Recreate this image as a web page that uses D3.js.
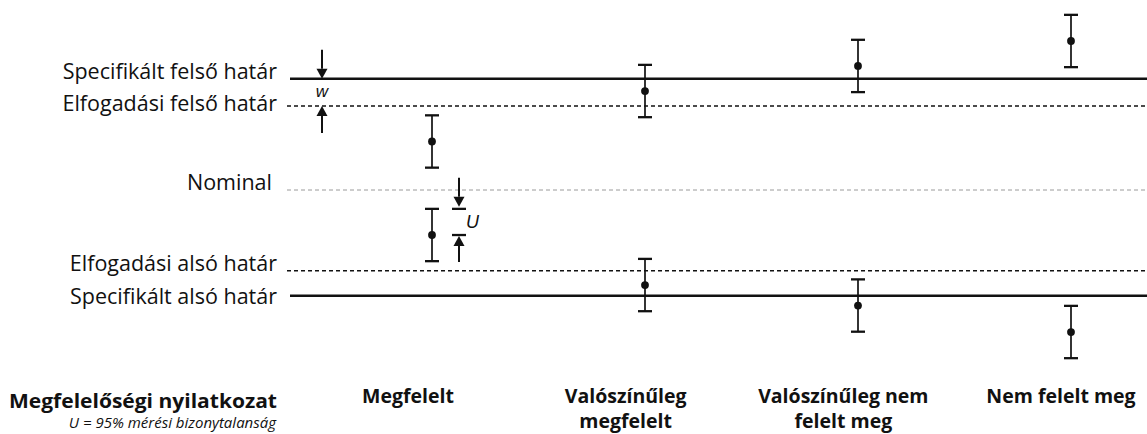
<!DOCTYPE html>
<html>
<head>
<meta charset="utf-8">
<script src="https://cdn.jsdelivr.net/npm/d3@7"></script>
<style>
  html, body { margin: 0; padding: 0; background: #fff; }
  svg { display: block; }
  text { fill: #111; }
</style>
</head>
<body>
<svg id="chart" width="1147" height="434"></svg>
<script>
// ---- data ----
const categories = ["Megfelelt", "Valószínűleg megfelelt", "Valószínűleg nem felelt meg", "Nem felelt meg"];
const categoryLines = [["Megfelelt"], ["Valószínűleg", "megfelelt"], ["Valószínűleg nem", "felelt meg"], ["Nem felelt meg"]];
const upperValues = [4.45, 9.08, 11.38, 13.67];
const lowerValues = [-4.13, -8.72, -10.6, -13.03];
const uncertainty = 2.4;
const limitNames = ["Specifikált felső határ", "Elfogadási felső határ", "Nominal", "Elfogadási alsó határ", "Specifikált alsó határ"];
const limitValues = [10.2, 7.7, 0, -7.4, -9.7];
const limitKinds = ["spec", "accept", "nominal", "accept", "spec"];
const titleText = "Megfelelőségi nyilatkozat";
const noteText = "U = 95% mérési bizonytalanság";

// ---- layout ----
const W = 1147, H = 434;
const svg = d3.select("#chart");
const y = d3.scaleLinear().domain([-10, 10]).range([299, 81]);
const x = d3.scalePoint().domain(categories).range([432, 1071]);
const xLabel = d3.scalePoint().domain(categories).range([408, 1061]);

const FONT = "'Open Sans', 'Noto Sans', sans-serif";
const lineStyle = {
  spec: { w: 2.6, dash: null, color: "#111", x0: 290 },
  accept: { w: 1.5, dash: "4 3", color: "#111", x0: 287 },
  nominal: { w: 1, dash: "4 3", color: "#9a9a9a", x0: 287 }
};
const labelBaselineShift = { 0: 0, 1: 5, 2: 0, 3: 0, 4: 8 };
const labelRight = { 0: 277, 1: 277, 2: 272, 3: 277, 4: 277 };

// reference lines
limitValues.forEach((v, i) => {
  const st = lineStyle[limitKinds[i]];
  svg.append("line")
    .attr("x1", st.x0).attr("x2", W)
    .attr("y1", y(v)).attr("y2", y(v))
    .attr("stroke", st.color)
    .attr("stroke-width", st.w)
    .attr("stroke-dasharray", st.dash);
  svg.append("text")
    .attr("x", labelRight[i])
    .attr("y", y(v) + labelBaselineShift[i])
    .attr("text-anchor", "end")
    .attr("font-family", FONT)
    .attr("font-size", 21.5)
    .text(limitNames[i]);
});

// error bars
const points = [];
categories.forEach((c, i) => {
  points.push({ c, v: upperValues[i] });
  points.push({ c, v: lowerValues[i] });
});
const capW = 7;
const g = svg.append("g").attr("stroke", "#111");
points.forEach(p => {
  const cx = x(p.c);
  g.append("line").attr("x1", cx).attr("x2", cx)
    .attr("y1", y(p.v + uncertainty)).attr("y2", y(p.v - uncertainty))
    .attr("stroke-width", 1.7);
  [p.v + uncertainty, p.v - uncertainty].forEach(e => {
    g.append("line").attr("x1", cx - capW).attr("x2", cx + capW)
      .attr("y1", y(e)).attr("y2", y(e)).attr("stroke-width", 2.3);
  });
  svg.append("circle").attr("cx", cx).attr("cy", y(p.v)).attr("r", 3.9).attr("fill", "#111");
});

// arrows
function arrow(ax, yFrom, yTip) {
  const dir = yTip > yFrom ? 1 : -1;
  const headH = 10, headW = 5.5;
  svg.append("line").attr("x1", ax).attr("x2", ax)
    .attr("y1", yFrom).attr("y2", yTip - dir * headH)
    .attr("stroke", "#111").attr("stroke-width", 2);
  svg.append("path")
    .attr("d", `M${ax - headW},${yTip - dir * headH} L${ax + headW},${yTip - dir * headH} L${ax},${yTip} Z`)
    .attr("fill", "#111");
}
// w : guard band between specification and acceptance upper limits
const wx = 322;
arrow(wx, y(limitValues[0]) - 29, y(limitValues[0]));
arrow(wx, y(limitValues[1]) + 27, y(limitValues[1]));
svg.append("text").attr("x", wx).attr("y", (y(limitValues[0]) + y(limitValues[1])) / 2 + 5)
  .attr("text-anchor", "middle").attr("font-family", "'Liberation Sans', Arial, sans-serif")
  .attr("font-style", "italic").attr("font-size", 17).text("w");

// U : uncertainty on the lower "Megfelelt" point
const ux = 459;
const uTop = y(lowerValues[0] + uncertainty), uBot = y(lowerValues[0]);
arrow(ux, uTop - 31, uTop - 2);
arrow(ux, uBot + 27, uBot + 1);
svg.append("line").attr("x1", ux - 7).attr("x2", ux + 7).attr("y1", uTop).attr("y2", uTop)
  .attr("stroke", "#111").attr("stroke-width", 2.3);
svg.append("line").attr("x1", ux - 7).attr("x2", ux + 7).attr("y1", uBot).attr("y2", uBot)
  .attr("stroke", "#111").attr("stroke-width", 2.3);
svg.append("text").attr("x", ux + 7).attr("y", (uTop + uBot) / 2 + 6)
  .attr("font-family", "'Liberation Sans', Arial, sans-serif")
  .attr("font-style", "italic").attr("font-size", 18).text("U");

// bottom labels
const baseY = 403, lineGap = 25;
categories.forEach((c, i) => {
  const t = svg.append("text")
    .attr("x", xLabel(c)).attr("y", baseY)
    .attr("text-anchor", "middle")
    .attr("font-family", FONT).attr("font-weight", 700).attr("font-size", 19.5);
  categoryLines[i].forEach((ln, j) => {
    t.append("tspan").attr("x", xLabel(c)).attr("dy", j === 0 ? 0 : lineGap).text(ln);
  });
});
svg.append("text").attr("x", 277).attr("y", 408)
  .attr("text-anchor", "end").attr("font-family", FONT)
  .attr("font-weight", 700).attr("font-size", 20)
  .attr("textLength", 268).attr("lengthAdjust", "spacingAndGlyphs")
  .text(titleText);
svg.append("text").attr("x", 276).attr("y", 428)
  .attr("text-anchor", "end").attr("font-family", FONT)
  .attr("font-style", "italic").attr("font-size", 15).text(noteText);
</script>
</body>
</html>
